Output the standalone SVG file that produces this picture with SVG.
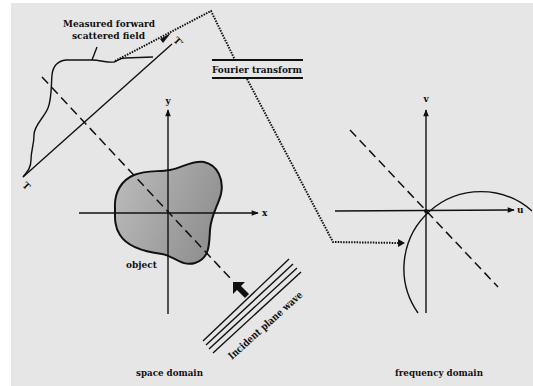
<svg xmlns="http://www.w3.org/2000/svg" width="533" height="386" viewBox="0 0 533 386">
<style>
.ln{fill:none;stroke:#111;stroke-width:1.4}
.ax{fill:none;stroke:#111;stroke-width:1.4}
.dash{fill:none;stroke:#111;stroke-width:1.5;stroke-dasharray:9 5}
.dot{fill:none;stroke:#111;stroke-width:2;stroke-dasharray:1.5 1.2}
.t{font-family:"DejaVu Serif","Liberation Serif",serif;font-weight:bold;font-size:10px;fill:#111}
.s{font-family:"DejaVu Serif","Liberation Serif",serif;font-weight:bold;font-size:9px;fill:#111}
</style>
<defs>
<marker id="ah" viewBox="0 0 10 10" refX="9" refY="5" markerWidth="9" markerHeight="7" markerUnits="userSpaceOnUse" orient="auto">
<path d="M0 1 L10 5 L0 9 Z" fill="#111"/>
</marker>
<linearGradient id="g" x1="0" y1="0" x2="1" y2="0.4">
<stop offset="0" stop-color="#bdbdbd"/>
<stop offset="1" stop-color="#929292"/>
</linearGradient>
</defs>
<rect x="0" y="0" width="533" height="386" fill="#ffffff"/>
<rect x="11" y="3" width="522" height="383" fill="#e6e6e6"/>

<g id="object">
<path d="M 115 208 C 114 192, 122 180, 134 175 C 146 170, 158 172, 170 170 C 182 168, 192 160, 204 162 C 218 165, 224 180, 221 194 C 218 206, 211 215, 210 230 C 209 245, 210 258, 195 263 C 182 267, 174 256, 162 254 C 146 252, 128 248, 120 235 C 114 226, 115 216, 115 208 Z" fill="url(#g)" stroke="#111" stroke-width="2"/>
<text class="t" x="126" y="268" textLength="31" lengthAdjust="spacingAndGlyphs">object</text>
</g>

<g id="space-axes">
<line class="ax" x1="79" y1="213" x2="258" y2="213" marker-end="url(#ah)"/>
<line class="ax" x1="168" y1="314" x2="168" y2="110" marker-end="url(#ah)"/>
<text class="s" x="262" y="216">x</text>
<text class="s" x="168" y="104" text-anchor="middle">y</text>
</g>

<g id="measured-field">
<line class="ln" x1="23" y1="177" x2="172" y2="44"/>
<path class="ln" stroke-width="1.6" d="M 23 177 C 27 172, 31 168, 31 160 C 31 150, 34 145, 34 135 C 34 125, 44 118, 48 108 C 52 98, 51 85, 52 75 C 53 65, 58 61, 66 60 L 92 60 C 100 60, 108 63, 114 62 C 118 61, 119 58, 125 58 L 153 57"/>
<line class="ln" x1="97" y1="47" x2="92" y2="60"/>
<text class="t" x="63" y="27" textLength="92" lengthAdjust="spacingAndGlyphs">Measured forward</text>
<text class="t" x="72" y="39" textLength="73" lengthAdjust="spacingAndGlyphs">scattered field</text>
<text class="s" transform="translate(176,44) rotate(45)" text-anchor="middle">T′</text>
<text class="s" transform="translate(24,188) rotate(45)" text-anchor="middle">T</text>
</g>

<g id="fourier-transform">
<line x1="212" y1="60" x2="303" y2="60" stroke="#111" stroke-width="1.8"/>
<line x1="212" y1="78" x2="303" y2="78" stroke="#111" stroke-width="1.8"/>
<text class="t" x="212" y="73" textLength="90" lengthAdjust="spacingAndGlyphs">Fourier transform</text>
</g>

<g id="incident-wave">
<line class="ln" x1="203" y1="341" x2="289" y2="259"/>
<line class="ln" x1="206" y1="345" x2="293" y2="264"/>
<line class="ln" x1="209" y1="349" x2="297" y2="268"/>
<line class="ln" x1="213" y1="353" x2="301" y2="272"/>
<polygon points="233,282 245,282 241,286 249,294 245,298 237,290 233,294" fill="#111"/>
<text class="t" transform="translate(232,360) rotate(-42)" textLength="96" lengthAdjust="spacingAndGlyphs">Incident plane wave</text>
</g>

<g id="freq-axes">
<line class="ax" x1="335" y1="211" x2="514" y2="210" marker-end="url(#ah)"/>
<line class="ax" x1="426" y1="313" x2="426" y2="110" marker-end="url(#ah)"/>
<text class="s" x="517" y="213">u</text>
<text class="s" x="426" y="102" text-anchor="middle">v</text>
<path class="ln" stroke-width="1.6" d="M 418 313 A 77 77 0 0 1 532 211"/>
<circle cx="426" cy="211" r="2" fill="#111"/>
</g>

<g id="connectors">
<line class="dash" x1="42" y1="77" x2="230" y2="278"/>
<line class="dash" x1="350" y1="130" x2="498" y2="287"/>
<polyline class="dot" points="115,61 211,11 235,60"/>
<polyline class="dot" points="247,79 333,242 400,243"/>
<path d="M 160 39 L 171 33 L 163 43 Z" fill="#111"/>
<path d="M 398 239 L 405 243 L 398 247 Z" fill="#111"/>
</g>

<text class="t" x="136" y="376" textLength="67" lengthAdjust="spacingAndGlyphs">space domain</text>
<text class="t" x="395" y="376" textLength="88" lengthAdjust="spacingAndGlyphs">frequency domain</text>
</svg>
